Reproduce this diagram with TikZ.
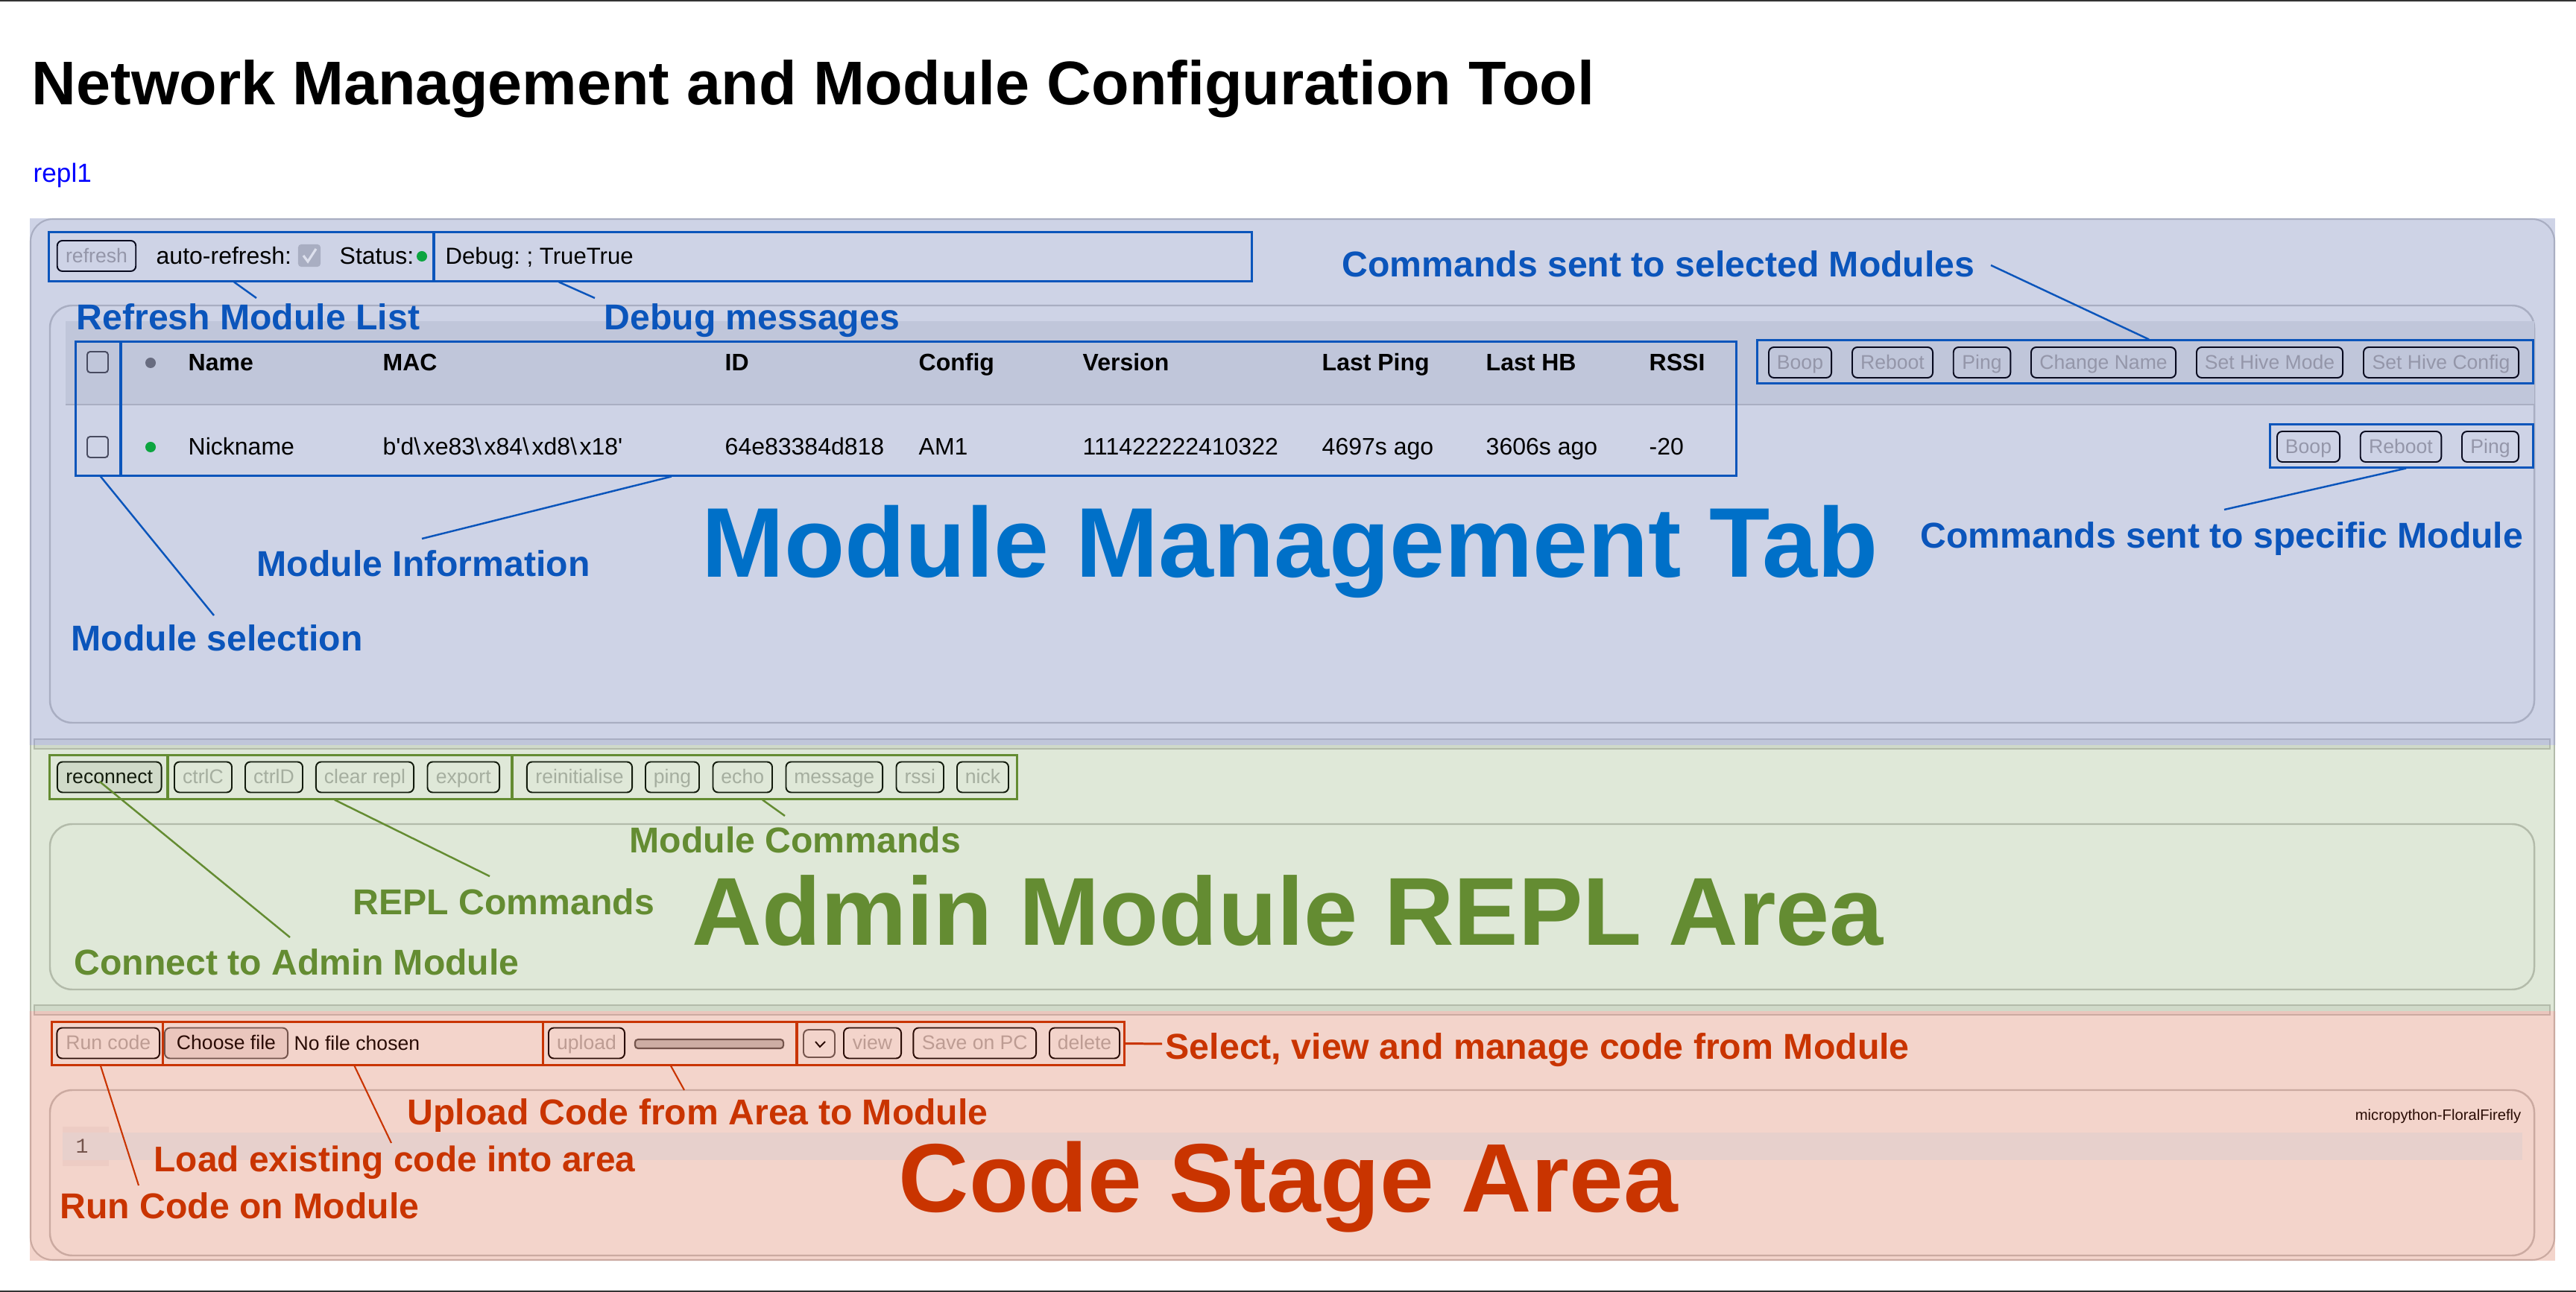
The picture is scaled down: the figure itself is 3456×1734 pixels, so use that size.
\documentclass[tikz,border=0pt]{standalone}
\usepackage{fontspec}
\setmainfont{Liberation Sans}
\newfontfamily\rawfont{Liberation Sans}
\setmonofont{Liberation Mono}
\usetikzlibrary{arrows}
\frenchspacing
\newcommand\hexslash{\textbackslash\kern1pt}

\definecolor{bluepanel}{HTML}{CED3E6}
\definecolor{blueband}{HTML}{C0C6DA}
\definecolor{blueedge}{HTML}{A9AEC2}
\definecolor{bluenote}{HTML}{0B55BB}
\definecolor{bluebig}{HTML}{0070C8}
\definecolor{bluegrey}{HTML}{9496A9}
\definecolor{blueink}{HTML}{07091E}
\definecolor{greenpanel}{HTML}{DFE8D8}
\definecolor{greenband}{HTML}{D0DAC9}
\definecolor{greenedge}{HTML}{B3BBAA}
\definecolor{greennote}{HTML}{648C32}
\definecolor{greengrey}{HTML}{A5AE9F}
\definecolor{greenink}{HTML}{121B0C}
\definecolor{redpanel}{HTML}{F3D4CB}
\definecolor{redband}{HTML}{EAC6BD}
\definecolor{rededge}{HTML}{CBAAA1}
\definecolor{rednote}{HTML}{C93400}
\definecolor{redgrey}{HTML}{BD9C93}
\definecolor{redink}{HTML}{2A0C05}
\definecolor{redline}{HTML}{E7D0CC}
\definecolor{redgutter}{HTML}{EDCCC4}
\definecolor{okdot}{HTML}{0DA540}

\begin{document}
\begin{tikzpicture}[x=0.01cm,y=-0.01cm,
                    body/.style={anchor=base west,inner sep=0pt,font=\fontsize{9.1}{11}\selectfont},
                    head/.style={anchor=base west,inner sep=0pt,font=\fontsize{9.1}{11}\bfseries\selectfont},
                    note/.style={anchor=base west,inner sep=0pt,font=\fontsize{13.7}{16}\bfseries\selectfont},
                    big/.style={anchor=base west,inner sep=0pt,font=\fontsize{#1}{44}\bfseries\selectfont},
                    btn/.style={draw,rounded corners=0.07cm,line width=0.55pt,inner sep=0pt,
                                minimum height=0.41cm,text height=6.5pt,text depth=1.66pt,
                                font=\fontsize{7.56}{9}\selectfont},
                    blue btn/.style={btn,draw=blueink,text=bluegrey},
                    green btn/.style={btn,draw=greenink,text=greengrey},
                    red btn/.style={btn,draw=redink,text=redgrey},
                    blue box/.style={draw=bluenote,line width=0.85pt,inner sep=0pt},
                    green box/.style={draw=greennote,line width=0.85pt,inner sep=0pt},
                    red box/.style={draw=rednote,line width=0.85pt,inner sep=0pt},
                    blue lead/.style={draw=bluenote,line width=0.7pt},
                    green lead/.style={draw=greennote,line width=0.7pt},
                    red lead/.style={draw=rednote,line width=0.6pt},
                    tick/.style={draw=#1,rounded corners=0.04cm,line width=0.55pt,inner sep=0pt,
                                 minimum width=0.28cm,minimum height=0.28cm},
                    dot/.style={circle,fill=#1,inner sep=0pt,minimum size=0.14cm}]
\useasboundingbox (0,0) rectangle (3456,1734);
\fill[white] (0,0) rectangle (3456,1734);
\fill[black!80] (0,0) rectangle (3456,2);
\fill[black!80] (0,1732) rectangle (3456,1734);

% panels
\fill[bluepanel] (40,293) rectangle (3428,1000);
\fill[greenpanel] (40,1000) rectangle (3428,1357);
\fill[redpanel] (40,1357) rectangle (3428,1692);
\draw[blueedge,line width=0.6pt,rounded corners=0.3cm] (41,1000) -- (41,294) -- (3427,294) -- (3427,1000);
\draw[greenedge,line width=0.6pt] (41,1000) -- (41,1357) (3427,1000) -- (3427,1357);
\draw[rededge,line width=0.6pt,rounded corners=0.3cm] (41,1357) -- (41,1691) -- (3427,1691) -- (3427,1357);
% resize bars
\fill[blueband] (46,992) rectangle (3421,1000);
\fill[greenband] (46,1000) rectangle (3421,1005);
\draw[blueedge,line width=0.8pt] (46,1000) -- (46,992) -- (3421,992) -- (3421,1000);
\draw[greenedge,line width=0.8pt] (46,1000) -- (46,1005) -- (3421,1005) -- (3421,1000);
\fill[greenband] (46,1349) rectangle (3421,1357);
\fill[redband] (46,1357) rectangle (3421,1362);
\draw[greenedge,line width=0.8pt] (46,1357) -- (46,1349) -- (3421,1349) -- (3421,1357);
\draw[rededge,line width=0.8pt] (46,1357) -- (46,1362) -- (3421,1362) -- (3421,1357);
% inner cards
\draw[blueedge,line width=0.7pt,rounded corners=0.3cm] (67,410) rectangle (3400,970);
\fill[blueband] (88,431) rectangle (3400,543);
\draw[blueedge,line width=0.7pt] (88,543) -- (3400,543);
\draw[greenedge,line width=0.7pt,rounded corners=0.3cm] (67,1106) rectangle (3400,1328);
\draw[rededge,line width=0.7pt,rounded corners=0.3cm] (67,1463) rectangle (3400,1685);
\fill[redgutter] (84,1512) rectangle (146,1565);
\fill[redline] (84,1520) rectangle (3384,1557);

\node[anchor=base west,inner sep=0pt,font=\fontsize{23.55}{28}\bfseries\selectfont] (title) at (42,141) {Network Management and Module Configuration Tool};
\node[anchor=base west,inner sep=0pt,text=blue,font=\fontsize{10}{12}\selectfont] (repl) at (44,245) {repl1};

% module tab
\node[blue box,minimum width=5.16cm,minimum height=0.65cm] (refreshbox) at (324,344.5) {};
\node[blue box,minimum width=10.97cm,minimum height=0.65cm] (debugbox) at (1130.5,344.5) {};
\node[blue box,minimum width=0.6cm,minimum height=1.79cm] (selectbox) at (132,548.5) {};
\node[blue box,minimum width=21.67cm,minimum height=1.79cm] (infobox) at (1245.5,548.5) {};
\node[blue box,minimum width=10.4cm,minimum height=0.57cm] (allbox) at (2878,485.5) {};
\node[blue box,minimum width=3.52cm,minimum height=0.57cm] (onebox) at (3222,598.5) {};

\node[blue btn,minimum width=1.055cm] (refresh) at (129.5,343.5) {refresh};
\node[body] (auto) at (209,355) {auto-refresh:};
\node[fill=blueedge,rounded corners=0.04cm,inner sep=0pt,minimum width=0.3cm,minimum height=0.3cm] (autotick) at (415,343) {};
\draw[bluepanel!70!white,line width=0.9pt] (407,343) -- (413,351) -- (424,334);
\node[body] (status) at (455,355) {Status:};
\node[dot=okdot] (statusdot) at (566,344) {};
\node[body,font=\fontsize{8.85}{11}\selectfont] (debug) at (597,355) {Debug: ; TrueTrue};

\node[tick=blueink!60!blueedge] (tickhead) at (131,486) {};
\node[dot=blueink!40!blueedge] (dothead) at (202,487) {};
\node[head] (h1) at (252,498) {Name};
\node[head] (h2) at (513,498) {MAC};
\node[head] (h3) at (972,498) {ID};
\node[head] (h4) at (1232,498) {Config};
\node[head] (h5) at (1452,498) {Version};
\node[head] (h6) at (1773,498) {Last Ping};
\node[head] (h7) at (1993,498) {Last HB};
\node[head] (h8) at (2212,498) {RSSI};
\node[tick=blueink!60!blueedge] (tickrow) at (131,600) {};
\node[dot=okdot] (dotrow) at (202,600) {};
\node[body] (r1) at (252,611) {Nickname};
\node[body,font=\fontsize{9.1}{11}\rawfont] (r2) at (513,611) {b'd\hexslash xe83\hexslash x84\hexslash xd8\hexslash x18'};
\node[body] (r3) at (972,611) {64e83384d818};
\node[body] (r4) at (1232,611) {AM1};
\node[body] (r5) at (1452,611) {111422222410322};
\node[body] (r6) at (1773,611) {4697s ago};
\node[body] (r7) at (1993,611) {3606s ago};
\node[body] (r8) at (2212,611) {-20};

\node[blue btn,minimum width=0.84cm] (boop) at (2415,486.5) {Boop};
\node[blue btn,minimum width=1.08cm] (reboot) at (2539,486.5) {Reboot};
\node[blue btn,minimum width=0.765cm] (ping) at (2659,486.5) {Ping};
\node[blue btn,minimum width=1.94cm] (rename) at (2822,486.5) {Change Name};
\node[blue btn,minimum width=1.96cm] (hivemode) at (3045,486.5) {Set Hive Mode};
\node[blue btn,minimum width=2.08cm] (hiveconfig) at (3275,486.5) {Set Hive Config};
\node[blue btn,minimum width=0.84cm] (boopone) at (3097,599.5) {Boop};
\node[blue btn,minimum width=1.085cm] (rebootone) at (3221,599.5) {Reboot};
\node[blue btn,minimum width=0.76cm] (pingone) at (3341,599.5) {Ping};

\node[note,text=bluenote] (notelist) at (102,443) {Refresh Module List};
\node[note,text=bluenote] (notedebug) at (810,443) {Debug messages};
\node[note,text=bluenote] (noteall) at (1800,372) {Commands sent to selected Modules};
\node[note,text=bluenote] (noteone) at (2576,736) {Commands sent to specific Module};
\node[note,text=bluenote] (noteinfo) at (344,774) {Module Information};
\node[note,text=bluenote] (noteselect) at (95,874) {Module selection};
\node[big=37.8,text=bluebig] (tabtitle) at (941,775) {Module Management Tab};

\coordinate (endlist) at (344,400);
\coordinate (enddebug) at (798,400);
\coordinate (endall) at (2671,356);
\coordinate (endone) at (2984,684);
\coordinate (endinfo) at (566,723);
\coordinate (endselect) at (287,826);
\draw[blue lead] ([xshift=-0.1cm]refreshbox.south) -- (endlist);
\draw[blue lead] ([xshift=-3.805cm]debugbox.south) -- (enddebug);
\draw[blue lead] ([xshift=0.05cm]allbox.north) -- (endall);
\draw[blue lead] ([xshift=0.06cm]onebox.south) -- (endone);
\draw[blue lead] ([xshift=-3.445cm]infobox.south) -- (endinfo);
\draw[blue lead] ([xshift=0.03cm]selectbox.south) -- (endselect);

% repl area
\node[green box,minimum width=1.58cm,minimum height=0.58cm] (connectbox) at (146,1043) {};
\node[green box,minimum width=4.62cm,minimum height=0.58cm] (replbox) at (456,1043) {};
\node[green box,minimum width=6.775cm,minimum height=0.58cm] (modbox) at (1025.5,1043) {};

\node[green btn,fill=greenband,text=greenink,minimum width=1.395cm] (reconnect) at (146.75,1043) {reconnect};
\node[green btn,minimum width=0.77cm] (ctrlc) at (272.5,1043) {ctrlC};
\node[green btn,minimum width=0.77cm] (ctrld) at (367.5,1043) {ctrlD};
\node[green btn,minimum width=1.31cm] (clear) at (489.5,1043) {clear repl};
\node[green btn,minimum width=0.965cm] (export) at (621.75,1043) {export};
\node[green btn,minimum width=1.41cm] (reinit) at (777.5,1043) {reinitialise};
\node[green btn,minimum width=0.72cm] (pingrepl) at (902,1043) {ping};
\node[green btn,minimum width=0.795cm] (echo) at (996.25,1043) {echo};
\node[green btn,minimum width=1.295cm] (message) at (1119.25,1043) {message};
\node[green btn,minimum width=0.635cm] (rssi) at (1234.25,1043) {rssi};
\node[green btn,minimum width=0.69cm] (nick) at (1318.5,1043) {nick};

\node[note,text=greennote] (notemod) at (844,1145) {Module Commands};
\node[note,text=greennote] (noterepl) at (473,1227) {REPL Commands};
\node[note,text=greennote] (noteconnect) at (99,1308) {Connect to Admin Module};
\node[big=36.85,text=greennote] (repltitle) at (928,1268) {Admin Module REPL Area};

\coordinate (endmod) at (1053,1095);
\coordinate (endrepl) at (657,1176);
\coordinate (endconnect) at (389,1258);
\draw[green lead] ([xshift=-0.025cm]modbox.south) -- (endmod);
\draw[green lead] ([xshift=-0.07cm]replbox.south) -- (endrepl);
\draw[green lead] ([xshift=-0.13cm,yshift=-0.06cm]reconnect.center) -- (endconnect);

% code stage
\node[red box,minimum width=1.485cm,minimum height=0.57cm] (runbox) at (144,1400.5) {};
\node[red box,minimum width=5.1cm,minimum height=0.57cm] (loadbox) at (473.5,1400.5) {};
\node[red box,minimum width=3.4cm,minimum height=0.57cm] (uploadbox) at (899,1400.5) {};
\node[red box,minimum width=4.39cm,minimum height=0.57cm] (managebox) at (1288.5,1400.5) {};

\node[red btn,minimum width=1.375cm] (runcode) at (145.25,1400) {Run code};
\node[red btn,fill=redband,draw=redink!50!redgrey,text=redink,minimum width=1.65cm] (choose) at (303.5,1400) {Choose file};
\node[body,font=\fontsize{7.56}{9}\selectfont,text=redink] (nofile) at (394,1409) {No file chosen};
\node[red btn,minimum width=1.02cm] (upload) at (787,1400) {upload};
\node[draw=redink!50!redgrey,fill=redgrey!70!redpanel,rounded corners=0.04cm,line width=0.6pt,inner sep=0pt,minimum width=1.99cm,minimum height=0.12cm] (progress) at (951.5,1401) {};
\node[red btn,draw=redink!50!redgrey,minimum width=0.42cm,minimum height=0.37cm] (pick) at (1099,1400.5) {};
\draw[redink,line width=0.55pt] (1094,1398) -- (1100,1405) -- (1107,1398);
\node[red btn,minimum width=0.77cm] (view) at (1170.5,1400) {view};
\node[red btn,minimum width=1.645cm] (savepc) at (1307.75,1400) {Save on PC};
\node[red btn,minimum width=0.94cm] (delete) at (1455,1400) {delete};

\node[note,text=rednote,font=\fontsize{13.73}{16}\bfseries\selectfont] (notemanage) at (1563,1421) {Select, view and manage code from Module};
\node[note,text=rednote] (noteupload) at (546,1509) {Upload Code from Area to Module};
\node[note,text=rednote,font=\fontsize{13.6}{16}\bfseries\selectfont] (noteload) at (206,1572) {Load existing code into area};
\node[note,text=rednote] (noterun) at (80,1635) {Run Code on Module};
\node[big=37.15,text=rednote] (codetitle) at (1205,1626) {Code Stage Area};

\coordinate (endupload) at (918,1463);
\coordinate (endload) at (525,1534);
\coordinate (endrun) at (186,1591);
\coordinate (endmanage) at (1559,1401);
\draw[red lead] ([xshift=-0.09cm]runbox.south) -- (endrun);
\draw[red lead] ([xshift=0.02cm]loadbox.south) -- (endload);
\draw[red lead] ([xshift=0.01cm]uploadbox.south) -- (endupload);
\draw[draw=rednote,line width=0.85pt] (managebox.east) -- (endmanage);

\node[anchor=base,inner sep=0pt,text=redink!50!redgrey,font=\fontsize{8}{9}\ttfamily] (lineno) at (110,1547) {1};
\node[anchor=base east,inner sep=0pt,text=redink,font=\fontsize{5.75}{8}\selectfont] (theme) at (3383,1503) {micropython-FloralFirefly};
\end{tikzpicture}
\end{document}
